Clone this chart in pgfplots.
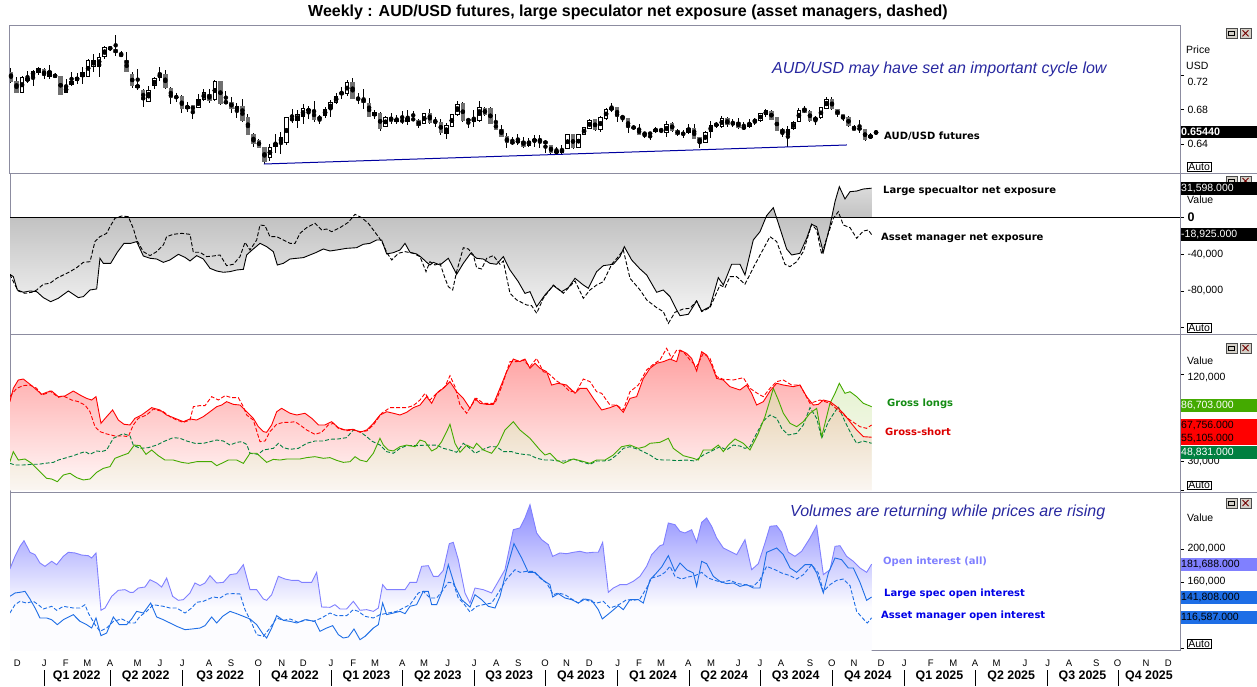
\documentclass[border=0pt]{standalone}
\usepackage{fontspec}
\setmainfont{Liberation Sans}
\newfontfamily\lblfont{DejaVu Sans}
\usepackage{pgfplots}
\usepackage{pgfplotstable}
\pgfplotsset{compat=1.18}

\definecolor{framegray}{RGB}{140,140,160}
\definecolor{candlegray}{RGB}{112,112,112}
\definecolor{supportblue}{RGB}{0,0,160}
\definecolor{notecol}{RGB}{40,40,160}
\definecolor{lgreen}{RGB}{68,170,0}
\definecolor{dgreen}{RGB}{0,128,64}
\definecolor{oipurple}{RGB}{128,128,255}
\definecolor{oiblue}{RGB}{30,110,230}
\definecolor{btngray}{RGB}{212,208,200}
\definecolor{redtop}{RGB}{255,160,160}
\definecolor{redbot}{RGB}{255,250,250}
\definecolor{greentop}{RGB}{205,232,165}
\definecolor{greenbot}{RGB}{248,244,235}
\definecolor{lsgreenlbl}{RGB}{20,140,20}
\definecolor{gslbl}{RGB}{220,0,0}
\definecolor{lsbluelbl}{RGB}{0,0,230}

\pgfdeclareverticalshading{netshade}{100bp}{%
  rgb(0bp)=(0.96,0.96,0.96); rgb(25bp)=(0.96,0.96,0.96);
  rgb(63bp)=(0.76,0.76,0.76); rgb(75bp)=(0.86,0.86,0.86);
  rgb(100bp)=(0.86,0.86,0.86)}
\pgfdeclareverticalshading{oishade}{100bp}{%
  rgb(0bp)=(0.99,0.99,1); rgb(40bp)=(0.99,0.99,1);
  rgb(75bp)=(0.55,0.55,1); rgb(100bp)=(0.55,0.55,1)}

% ---------------- weekly candles (w = week index from early Dec 2021) ----------------
\pgfplotstableread{
w o h l c
2 .6997 .7190 .6997 .7174
3 .7132 .7247 .7105 .7163
4 .7182 .7259 .7078 .7251
5 .7220 .7297 .7201 .7278
7 .7182 .7317 .7155 .7247
10 .6989 .7151 .6989 .7074
11 .7085 .7232 .7078 .7132
12 .7128 .7220 .7097 .7182
13 .7174 .7297 .7097 .7232
14 .7182 .7386 .7174 .7375
15 .7297 .7440 .7240 .7375
16 .7297 .7452 .7182 .7413
17 .7413 .7536 .7382 .7529
18 .7490 .7540 .7482 .7529
23 .7055 .7267 .7028 .7085
25 .6885 .7078 .6885 .7028
26 .7074 .7182 .7035 .7163
27 .7163 .7290 .7132 .7220
32 .6808 .6893 .6769 .6847
34 .6816 .6981 .6816 .6924
35 .6908 .7035 .6897 .7001
37 .6912 .7143 .6900 .7132
39 .6873 .7016 .6862 .6900
41 .6793 .6873 .6700 .6843
47 .6238 .6403 .6211 .6372
48 .6372 .6519 .6295 .6419
49 .6419 .6546 .6284 .6480
50 .6411 .6719 .6392 .6712
52 .6673 .6796 .6592 .6746
53 .6719 .6862 .6635 .6816
54 .6785 .6843 .6696 .6804
57 .6727 .6827 .6700 .6812
58 .6804 .6912 .6719 .6885
59 .6881 .6989 .6862 .6958
61 .6981 .7143 .6962 .7116
66 .6727 .6796 .6696 .6769
68 .6596 .6727 .6596 .6719
70 .6662 .6739 .6635 .6696
72 .6662 .6796 .6619 .6704
75 .6635 .6766 .6635 .6758
79 .6519 .6642 .6457 .6619
80 .6604 .6750 .6596 .6746
81 .6739 .6900 .6731 .6862
84 .6662 .6796 .6596 .6700
85 .6673 .6900 .6662 .6835
92 .6411 .6519 .6392 .6457
94 .6384 .6469 .6372 .6442
95 .6438 .6507 .6372 .6457
96 .6442 .6507 .6353 .6450
99 .6295 .6372 .6288 .6326
100 .6303 .6392 .6276 .6342
101 .6345 .6515 .6345 .6515
103 .6361 .6515 .6353 .6515
104 .6507 .6604 .6507 .6596
105 .6577 .6689 .6577 .6681
107 .6565 .6727 .6546 .6719
108 .6692 .6823 .6681 .6808
109 .6804 .6873 .6777 .6820
117 .6546 .6596 .6534 .6581
119 .6534 .6669 .6488 .6635
123 .6527 .6631 .6515 .6584
126 .6419 .6554 .6419 .6538
127 .6546 .6673 .6469 .6623
128 .6619 .6662 .6584 .6635
129 .6596 .6727 .6584 .6708
133 .6573 .6662 .6565 .6611
134 .6604 .6689 .6584 .6650
135 .6662 .6700 .6623 .6681
136 .6673 .6766 .6662 .6758
137 .6739 .6804 .6719 .6796
141 .6507 .6611 .6365 .6577
142 .6573 .6669 .6565 .6662
143 .6662 .6816 .6662 .6796
146 .6681 .6731 .6623 .6708
147 .6700 .6835 .6689 .6827
148 .6808 .6951 .6804 .6924
156 .6469 .6527 .6461 .6507
157 .6530 .6548 .6525 .6544
}\upc

\pgfplotstableread{
w o h l c
0 .7240 .7278 .7112 .7124
1 .7132 .7174 .6989 .6997
6 .7267 .7278 .7151 .7190
8 .7213 .7220 .7163 .7170
9 .7190 .7190 .6974 .6974
19 .7502 .7664 .7425 .7452
20 .7452 .7482 .7405 .7413
21 .7375 .7463 .7240 .7240
22 .7213 .7232 .7055 .7074
24 .7028 .7035 .6827 .6912
28 .7209 .7259 .7035 .7055
29 .7055 .7066 .6862 .6931
30 .6951 .6997 .6893 .6939
31 .6958 .6970 .6766 .6804
33 .6854 .6854 .6689 .6789
36 .6985 .7035 .6881 .6897
38 .7132 .7132 .6854 .6866
40 .6889 .6951 .6766 .6812
42 .6843 .6920 .6662 .6665
43 .6712 .6750 .6507 .6511
44 .6519 .6527 .6365 .6407
45 .6450 .6457 .6361 .6361
46 .6369 .6369 .6172 .6199
51 .6704 .6804 .6642 .6673
55 .6796 .6904 .6662 .6681
56 .6715 .6739 .6631 .6696
60 .7005 .7066 .6924 .6970
62 .7124 .7163 .6924 .6924
63 .6935 .6997 .6862 .6912
64 .6924 .7035 .6804 .6881
65 .6877 .6931 .6715 .6715
67 .6758 .6769 .6557 .6577
69 .6712 .6758 .6635 .6662
71 .6681 .6789 .6635 .6662
73 .6692 .6789 .6681 .6685
74 .6681 .6689 .6584 .6615
76 .6758 .6804 .6635 .6642
77 .6673 .6712 .6604 .6662
78 .6662 .6689 .6507 .6527
82 .6881 .6893 .6662 .6669
83 .6692 .6708 .6592 .6669
86 .6823 .6827 .6727 .6739
87 .6816 .6827 .6635 .6635
88 .6650 .6750 .6565 .6565
89 .6577 .6623 .6480 .6488
90 .6500 .6527 .6361 .6411
91 .6430 .6488 .6392 .6411
93 .6442 .6488 .6353 .6372
97 .6442 .6450 .6295 .6403
98 .6392 .6392 .6284 .6303
102 .6515 .6519 .6345 .6353
106 .6689 .6692 .6554 .6565
110 .6827 .6827 .6658 .6719
111 .6719 .6739 .6662 .6712
112 .6700 .6700 .6527 .6584
113 .6604 .6623 .6565 .6584
114 .6584 .6635 .6507 .6507
115 .6534 .6542 .6469 .6515
116 .6527 .6534 .6450 .6523
118 .6573 .6584 .6527 .6557
120 .6642 .6662 .6546 .6554
121 .6565 .6577 .6496 .6507
122 .6527 .6565 .6477 .6519
124 .6584 .6635 .6457 .6457
125 .6480 .6488 .6361 .6419
130 .6708 .6712 .6596 .6623
131 .6642 .6692 .6604 .6635
132 .6662 .6700 .6577 .6584
138 .6789 .6796 .6681 .6681
139 .6712 .6712 .6557 .6557
140 .6573 .6584 .6480 .6534
144 .6816 .6843 .6758 .6766
145 .6789 .6796 .6662 .6673
149 .6920 .6943 .6796 .6804
150 .6804 .6812 .6719 .6739
151 .6746 .6750 .6669 .6689
152 .6719 .6727 .6604 .6611
153 .6611 .6623 .6554 .6557
154 .6584 .6681 .6534 .6577
155 .6577 .6577 .6442 .6450
}\dnc

% ---------------- net exposure ----------------
\pgfplotstableread{
w v
-0.2 -61900
0.42 -64400
1.15 -78900
2.24 -81400
3.45 -80000
4.66 -80700
5.87 -87200
7.2 -91600
8.59 -87900
10.41 -80000
12.22 -87200
13.13 -86100
14.34 -78900
15.55 -77800
16.15 -44500
16.76 -50000
18.09 -50000
19.3 -38000
20.51 -28300
21.72 -28300
22.81 -26400
24.02 -42000
25.23 -44500
26.44 -45300
27.65 -48900
28.86 -46300
30.37 -40200
31.58 -43500
32.49 -47400
33.7 -41600
34.91 -45300
36.12 -55400
37.33 -58300
38.54 -59700
39.75 -59000
40.96 -57200
42.17 -56500
42.77 -40900
43.68 -35900
45.19 -28300
46.4 -31900
47.61 -37300
48.34 -51800
49.43 -50000
50.64 -45300
51.85 -44500
53.06 -43800
54.26 -40900
55.47 -38000
56.68 -34400
57.89 -36600
59.1 -35500
60.92 -33700
62.73 -33000
63.94 -29300
65.15 -28300
66.36 -24600
67.27 -24600
68.18 -39800
69.39 -38400
70.6 -35500
71.51 -28300
72.41 -38000
73.62 -39800
74.53 -43800
75.44 -48900
76.04 -51800
76.65 -48900
77.86 -51800
79.37 -44500
80.88 -61900
82.09 -50000
83.42 -39100
84.5 -44500
85.71 -45300
86.93 -50000
88.14 -51000
89.35 -42700
90.56 -57200
92.07 -69900
93.28 -82600
94.19 -80700
95.4 -97000
96.91 -84300
98.43 -74200
99.94 -80700
101.15 -76400
102.36 -66200
103.87 -73500
104.78 -77100
106.29 -59000
107.5 -52500
109.32 -51000
110.53 -42700
111.31 -31900
112.64 -46300
114.16 -56100
115.37 -62600
117.18 -81400
118.39 -78900
119.6 -86100
120.81 -100600
121.42 -106800
122.93 -105300
124.44 -90800
125.35 -101700
126.86 -97000
128.37 -65500
129.28 -73500
130.79 -51000
132.3 -51000
133.21 -62600
134.72 -24600
135.94 -15600
137.14 1800
138.35 10400
139.56 -12000
140.77 -34400
141.68 -40900
143.19 -39100
144.4 -22800
145.31 -7600
146.22 -10200
147.43 -38000
148.64 -9100
149.55 17000
150.33 33200
151.36 19900
152.27 27800
153.48 28500
154.69 30700
156.2 31598
}\lsnet

\pgfplotstableread{
w v
-0.2 -61900
0.73 -73500
1.33 -80000
2.54 -82500
3.75 -81400
4.66 -78900
5.87 -72700
7.08 -71600
8.29 -66200
9.5 -62600
10.71 -59000
11.92 -54700
13.13 -48900
14.34 -48200
15.24 -26400
16.15 -21000
17.36 -17400
17.97 -10200
18.87 -1100
20.08 1400
21.29 700
22.2 -12000
22.81 -24600
24.02 -37300
25.23 -41600
26.44 -37300
27.65 -30100
28.25 -21000
29.46 -18500
30.97 -17400
32.49 -18500
33.09 -38000
34.3 -38000
35.51 -42700
36.72 -42000
37.93 -40900
39.14 -52500
40.35 -51000
41.56 -42700
42.47 -27200
43.38 -35500
44.59 -24600
45.19 -8400
46.1 -9100
47.0 -21000
48.22 -21000
49.43 -24600
50.64 -28300
51.54 -28300
52.45 -17400
53.66 -11200
55.17 -6500
56.38 -13800
57.29 -12700
58.2 -15600
59.71 -11200
61.22 -5500
62.43 3200
63.64 -400
64.85 -6500
65.76 -13800
66.67 -21000
67.57 -29300
68.18 -38000
69.09 -46300
70.3 -39100
71.51 -37300
73.02 -39100
74.23 -42700
75.32 -59000
76.04 -48200
76.95 -51800
77.86 -50000
78.77 -66200
79.37 -75300
80.16 -78900
80.88 -59000
82.09 -33000
83.0 -34400
83.91 -40900
84.5 -54700
85.42 -56100
86.33 -44500
87.54 -41600
88.75 -51000
89.35 -47400
90.56 -82500
91.77 -89700
93.59 -95200
94.49 -95900
95.4 -104200
96.61 -87900
98.43 -73500
100.24 -82500
102.36 -69100
103.87 -87900
105.08 -78900
106.29 -73500
107.5 -69900
109.02 -51000
110.23 -42700
111.13 -35500
112.34 -66200
114.16 -78900
115.37 -89700
117.18 -98100
118.39 -102400
119.3 -115100
120.51 -103100
122.02 -99500
123.23 -98800
124.44 -90800
125.35 -102400
126.86 -98100
128.68 -73500
129.58 -76400
130.49 -64400
131.7 -64400
133.21 -72700
134.72 -54700
136.54 -34400
137.75 -21000
138.96 -26400
140.47 -51000
141.38 -53600
142.59 -48200
143.8 -37300
145.31 -7600
146.22 -13800
147.13 -40200
148.04 -22800
149.25 -1100
150.15 6100
151.06 -8400
152.27 -11200
153.48 -22800
154.69 -14900
155.6 -13800
156.2 -18925
}\amnet

% ---------------- gross positions ----------------
\pgfplotstableread{
w v
-0.2 91900
0.42 105700
1.33 114300
2.24 115300
2.84 112600
3.75 108500
4.66 104000
5.57 99500
6.47 101600
7.38 102900
8.59 97100
9.8 97800
11.31 102900
12.52 98800
13.73 95300
14.64 93600
15.43 97100
16.33 69500
17.36 76400
18.45 83300
19.48 72900
20.51 68500
21.6 67800
22.5 74700
23.71 78100
25.53 85700
27.04 83300
28.25 78100
29.76 74700
31.28 71200
32.49 74000
33.7 72900
34.91 76400
36.12 81500
37.33 86700
38.23 88400
39.14 91900
40.35 89100
41.56 88400
42.77 81500
43.98 74700
44.89 66000
45.8 60900
46.4 60200
47.31 67800
48.22 81500
49.12 85000
50.64 79900
51.85 78100
53.36 79900
54.57 74700
55.78 67800
56.99 67800
58.2 71200
59.41 65000
60.62 62600
62.13 63300
63.34 60200
64.55 62600
65.76 69500
66.97 78100
68.18 81500
69.39 79900
70.6 78100
71.81 80900
73.02 85700
74.23 88400
75.44 97100
76.35 90200
77.25 100500
78.46 105700
79.67 112600
80.88 102200
82.09 95300
83.3 85000
84.21 95300
85.11 90200
86.33 89100
87.53 89100
88.74 105700
89.95 122900
91.16 136000
92.37 133300
93.28 136000
94.19 126400
95.1 131600
96.0 126400
97.21 122900
98.12 109100
99.33 110900
100.84 109100
102.36 100500
103.26 105700
104.47 105700
105.68 95300
107.2 83300
108.71 85700
109.92 88400
111.13 80900
112.34 95300
113.55 97100
114.76 116000
115.97 126400
117.18 131600
118.39 133300
119.6 136000
120.81 133300
121.41 145300
122.62 141900
123.53 136700
124.44 123600
125.35 143600
126.25 140200
127.16 129800
128.07 116000
129.28 114300
130.49 107400
132.3 104000
133.51 109100
134.42 100500
135.33 88400
136.54 91900
137.75 102900
138.96 110900
140.17 109100
141.98 107400
143.19 109100
144.4 97100
145.61 88400
146.52 89100
147.43 93600
148.64 91900
149.85 86700
151.06 79900
152.27 71200
153.48 62600
154.69 55700
156.2 55105
}\lsshort

\pgfplotstableread{
w v
-0.2 97100
1.03 105700
2.24 108500
3.45 109100
4.66 105700
5.57 98800
6.47 100500
7.08 102900
8.59 96400
9.5 97800
11.01 93600
12.22 91900
13.43 88400
14.34 81500
15.24 66000
16.15 60900
17.36 58500
18.87 56400
20.39 56400
21.29 55700
22.2 67800
23.11 74700
24.62 78100
25.83 84300
27.65 81500
28.86 76400
30.07 72900
31.28 70500
32.49 72900
33.09 86700
34.3 87800
35.21 87800
36.42 97100
37.63 93600
38.84 98100
40.05 96000
41.26 96000
42.17 86700
42.77 78100
43.98 72900
45.19 50500
46.1 51200
47.0 60900
48.22 68500
49.43 70500
50.64 70500
51.54 71200
52.45 67800
53.66 62600
55.17 58100
56.38 60200
57.59 67800
58.5 69500
59.41 64300
60.92 61900
62.13 62600
63.34 60900
64.55 61600
65.76 67800
67.27 79900
68.78 85700
70.6 85700
71.81 85700
73.02 87800
74.23 93600
75.14 100500
76.04 93600
77.55 102200
78.76 107400
79.67 118800
80.58 107400
81.49 88400
82.7 79900
83.6 88400
84.51 95300
85.72 90200
86.93 90200
87.84 90200
89.05 107400
90.56 133300
91.77 133300
92.98 135000
94.19 128100
95.4 136700
96.61 122900
97.52 121200
99.03 113300
100.24 109100
101.45 102200
102.66 102900
103.87 115300
105.08 112600
106.29 102200
107.2 100500
108.71 88400
109.92 88400
111.13 83300
112.34 102200
113.85 109100
115.36 124700
116.57 130500
117.78 135000
118.99 147100
119.9 136700
120.81 145300
122.02 143600
123.23 135000
124.44 128100
125.65 141900
126.86 136700
128.07 117800
129.28 115000
131.09 114300
132.91 116700
134.12 105700
135.02 102200
135.93 98800
136.54 97100
137.75 105700
138.96 112600
140.17 114300
141.68 109100
143.19 109100
145.01 90200
146.82 93600
148.64 90200
150.45 81500
152.27 72900
154.08 66000
155.29 64300
156.2 67756
}\amshort

\pgfplotstableread{
w v
-0.2 29800
0.42 40200
1.33 31500
2.54 32600
3.75 28100
4.96 21200
6.47 12600
7.38 11900
8.41 9100
9.5 16000
10.71 17800
11.92 13300
13.13 10900
14.34 11900
15.55 18800
16.76 22900
17.97 24700
18.87 33300
20.08 36000
21.29 38500
22.38 47000
23.41 46400
24.5 37400
25.53 41900
26.74 36000
27.95 31500
29.46 31500
30.97 29100
32.18 28100
33.7 29800
35.21 29800
36.42 29800
37.33 25700
38.23 28100
39.44 31500
40.96 31500
42.17 28100
43.38 38500
44.59 38500
46.4 29100
47.61 32200
48.82 31500
50.03 32600
51.24 32600
52.45 32600
53.66 34000
55.17 35000
56.68 33300
57.89 34000
59.1 31200
60.31 29100
61.52 29800
62.43 35000
63.34 31500
64.55 29800
65.76 38500
66.97 54000
67.57 47000
68.48 41900
69.39 40900
70.6 45300
71.81 47000
73.32 45300
74.23 52200
75.14 50500
76.35 40900
77.25 43600
78.16 50500
79.07 60900
79.67 68500
80.58 48800
81.49 39500
82.7 47000
83.91 43600
84.51 48800
85.72 41900
87.23 38500
88.44 47700
89.65 62600
91.16 71200
92.37 62600
94.19 54000
96.0 41900
96.91 36700
97.82 38500
99.03 31500
100.24 28100
102.05 32600
103.57 30500
105.08 28100
106.29 31500
107.8 31500
109.31 36700
110.82 45300
112.34 47000
113.85 43600
115.06 45300
115.97 48800
117.78 49800
119.3 54000
120.2 43600
122.02 36000
123.83 33300
124.74 31500
125.65 41900
127.16 41900
128.37 47000
129.28 40200
130.19 47000
131.4 53300
132.91 48800
134.12 41900
135.63 59100
136.84 76400
137.75 93600
138.35 105700
139.26 93600
140.17 79900
141.38 69500
142.59 66000
143.8 71200
145.01 79900
146.22 85000
147.13 55700
148.64 90200
149.55 100500
150.33 110900
151.36 100500
152.27 102200
153.48 97100
154.69 90200
156.2 86703
}\lslong

\pgfplotstableread{
w v
-0.2 28100
0.73 26400
2.24 26400
3.75 27100
4.96 27100
6.17 28100
7.68 29100
8.59 31500
10.1 34000
11.31 36000
12.52 38500
13.43 40200
14.34 37400
15.55 40900
16.45 40200
17.36 41900
18.57 54000
19.48 56400
20.39 58800
21.6 56400
22.2 47000
23.41 43600
24.92 44300
26.44 47000
27.95 51200
29.46 54700
30.67 54000
31.88 51200
33.39 48800
34.91 48800
36.12 50500
37.33 52200
38.54 51200
39.75 47000
40.96 49800
41.86 50500
42.77 47700
43.38 38500
44.89 37400
45.8 41900
47.61 43600
48.52 48800
49.43 44300
50.64 42600
52.15 43600
53.66 48800
55.17 51200
56.68 51200
57.89 53000
59.41 53300
60.92 54700
62.13 62600
63.34 60900
64.55 55700
65.46 51200
66.97 47000
68.18 40200
69.39 38500
70.6 43600
71.81 46400
73.62 46400
75.44 47000
77.25 47000
78.46 43600
79.67 41900
80.88 39500
82.09 48800
83.3 43600
84.21 38500
85.42 41900
86.93 45300
88.14 45300
89.35 40200
90.86 40200
91.77 38500
92.98 37400
94.19 36700
95.4 33300
96.91 31500
98.12 31500
99.33 30500
100.54 30500
102.05 32600
103.57 29800
105.08 27100
106.29 30500
107.5 30500
108.71 31500
109.92 36700
111.13 43600
112.34 45300
114.15 41900
115.97 36700
117.18 32200
118.39 31500
119.6 31500
120.81 30900
122.62 31500
124.13 30500
125.65 36700
127.16 40900
128.67 45300
129.88 41900
131.09 47000
132.3 46000
133.21 43600
134.12 45300
135.33 59100
136.54 71900
137.75 78100
138.96 74700
139.87 64300
141.08 57400
142.59 59100
143.8 67800
145.01 85700
146.22 74700
147.13 54000
148.34 71200
150.15 86700
151.36 71200
152.57 57400
153.48 48800
154.69 51200
156.2 48831
}\amlong

% ---------------- open interest ----------------
\pgfplotstableread{
w v
-0.2 175800
0.73 191100
1.63 203200
2.36 210100
3.45 196000
4.36 193100
5.26 183000
6.17 179000
7.38 185100
8.29 181000
9.5 191100
10.41 196000
11.62 195200
12.82 192700
14.03 191900
14.64 189100
15.43 195200
16.33 125700
17.06 128500
18.27 142600
19.48 149900
20.69 150700
21.6 147500
22.2 147500
23.11 152700
24.32 153900
25.23 162800
26.44 158800
27.34 153900
28.25 164800
29.34 142600
30.37 137800
31.28 138600
32.49 146700
33.39 158800
34.3 155600
35.21 158800
36.12 167700
37.33 158800
38.54 159600
39.75 168900
40.96 170100
42.17 181000
43.38 150700
44.59 150700
45.8 139400
46.4 137800
47.31 144600
48.52 166900
49.73 163600
50.94 162000
52.15 162000
52.75 159600
53.96 159600
54.57 159600
55.47 171700
56.38 129700
57.89 129300
58.8 132500
59.71 127300
60.92 127300
62.13 136600
63.34 125700
64.55 126500
65.76 124400
66.67 128500
67.45 156800
68.18 150700
69.99 150700
71.51 150700
72.41 159600
73.62 159600
74.53 179000
75.74 179800
76.65 166900
77.55 166900
78.46 174100
79.55 206500
80.27 208100
81.18 187100
82.39 146700
83.3 134500
84.21 152700
85.72 150700
87.23 146700
88.44 160800
89.65 174900
91.16 223400
92.37 225500
93.28 237600
94.19 253700
95.4 219400
96.31 211300
97.52 205300
98.3 191100
99.63 195200
100.84 194300
102.05 196000
103.26 197200
104.47 195200
105.68 196000
106.59 196000
107.38 208100
108.41 147500
109.31 152700
110.52 156800
111.73 156800
112.94 160800
114.15 166900
115.36 179000
116.27 193100
117.78 204000
118.39 205300
119.3 231500
120.5 229500
121.41 221400
122.32 219400
123.53 223400
124.44 208100
125.35 232300
126.25 237600
127.16 227500
128.07 213300
129.28 201200
130.49 197200
131.7 193100
133.21 211300
134.42 174900
135.63 182200
136.84 207300
137.75 227500
138.96 228300
139.87 220200
141.08 196000
142.28 191100
143.49 197200
145.01 213300
146.22 228300
147.43 168900
148.64 174900
149.55 203200
150.45 204000
151.66 191100
152.87 185100
154.08 177000
155.29 171700
156.2 181688
}\oiall

\pgfplotstableread{
w v
-0.2 142600
0.73 146700
1.63 147500
2.54 148700
3.45 139400
4.36 128500
5.26 116400
6.47 116400
7.38 114300
8.41 108300
9.5 114300
11.31 120400
12.52 112300
13.73 108300
14.64 104200
15.43 116400
16.33 94900
17.36 98200
18.57 117600
19.66 108300
20.99 108300
21.9 115200
22.81 124400
24.02 122400
25.35 134500
26.44 117600
27.65 114300
28.86 110300
30.07 106300
31.58 102200
32.79 103000
34.3 104200
35.21 107100
36.42 117600
37.33 110300
38.42 118400
39.75 124400
40.96 121600
42.17 118400
43.38 115200
44.59 108300
45.8 96200
46.4 92100
47.31 104200
48.22 119200
49.43 113500
50.64 112300
51.85 110300
53.36 114300
55.17 112300
56.08 100200
57.29 104200
58.38 107100
59.41 96200
60.31 92100
61.22 93300
62.25 103000
63.34 90100
64.25 94100
65.76 104200
66.67 108300
67.45 134500
68.18 120400
69.39 122400
70.6 124400
71.51 121600
72.41 130500
73.62 132500
74.83 148700
75.74 148700
76.35 132500
77.25 132500
78.16 147500
79.37 181000
80.58 154700
81.79 138600
83.3 129700
84.21 144600
85.42 138600
86.63 130500
87.84 128500
88.74 142600
89.95 174900
91.28 206500
92.68 189100
93.89 171700
95.1 171700
96.61 162000
97.82 156800
98.3 141800
99.33 145900
100.54 140600
101.75 138600
102.96 134500
104.17 139400
105.38 137800
106.59 126500
107.32 115200
109.01 124400
110.22 131300
111.13 126500
112.34 138600
113.85 138600
114.76 134500
115.97 162800
116.87 168900
118.09 178200
119.3 191900
120.5 172900
121.41 183000
122.62 174900
123.83 170900
124.44 154700
125.35 185100
126.25 182200
127.46 166900
128.67 160800
129.88 158000
131.09 158800
132.3 154700
133.51 156800
134.72 152700
135.93 152700
137.14 196000
138.96 201200
140.17 193100
141.38 177000
142.59 171700
144.1 181000
145.31 181000
146.22 170900
147.43 146700
148.34 170900
149.55 189100
150.75 187100
151.96 177000
152.87 177000
154.08 159600
155.29 137800
156.2 141808
}\oils

\pgfplotstableread{
w v
-0.2 122400
0.73 132500
1.63 136600
2.84 134500
4.05 136600
4.96 132500
5.87 127300
7.38 130500
8.29 125700
9.5 130500
11.31 128500
12.52 128500
13.43 132500
14.03 122400
15.24 108300
16.15 100200
17.36 104200
18.57 112300
20.08 115200
21.6 110300
22.5 110300
23.41 118400
24.62 124400
25.83 132500
27.65 130500
28.86 128500
30.07 128500
31.58 122400
32.79 128500
33.7 135400
34.91 136600
36.72 141800
37.93 140600
39.14 145500
40.35 145900
41.56 145500
42.47 126500
43.68 110300
44.59 96200
45.8 94100
47.0 104200
48.22 116400
49.43 113500
50.64 115200
52.15 111100
53.66 114300
54.87 112300
56.38 116400
57.89 122400
59.1 119200
60.92 119200
62.13 126500
63.04 124400
64.25 118400
65.76 116400
66.97 120400
68.48 122400
69.99 124400
71.2 128500
72.41 132500
73.93 146700
74.83 148700
76.04 140600
77.25 140600
78.46 150700
79.37 159600
80.27 158800
81.18 140600
82.09 134500
83.3 123600
84.51 130500
85.72 132500
87.23 134500
88.44 146700
89.95 163600
91.47 174900
92.37 171700
93.58 172900
94.79 172900
96.0 164800
97.21 158800
98.42 144600
99.33 146700
100.54 144600
101.75 139400
102.96 134500
103.87 139400
105.08 136600
106.29 134500
107.5 136600
108.71 128500
109.92 131300
110.82 134500
111.73 138600
112.94 137800
114.15 139400
115.36 152700
116.27 164800
117.78 167700
118.69 171700
119.6 179000
120.5 166900
121.71 163600
122.92 166100
124.13 167700
125.35 171700
126.55 164800
127.76 162000
128.97 159600
130.49 162000
132.0 158000
133.21 156800
134.72 154700
135.93 162800
137.14 179000
138.65 174900
139.87 170900
141.38 167700
142.59 163600
143.8 168900
145.31 181000
146.52 170900
147.43 148700
148.64 156800
149.85 162000
151.06 163600
152.27 155600
153.48 124400
154.69 115200
155.41 110300
156.2 116587
}\oiam

\pgfplotsset{
  panel/.style={
    scale only axis, width=1170pt, anchor=south west,
    xmin=-0.18, xmax=212.16,
    axis line style={draw=framegray, line width=1pt},
    xtick=\empty,
    ytick pos=right, yticklabel pos=right,
    tick align=outside,
    major tick length=4pt,
    y tick style={black, line width=0.8pt},
    yticklabel style={font=\fontsize{10.5}{12}\selectfont, anchor=west},
    scaled y ticks=false,
    /pgf/number format/assume math mode=true,
  },
  barstyle/.style 2 args={only marks, mark=none,
    error bars/.cd, y dir=both, y explicit, error mark=none,
    error bar style={draw=#1, line width=#2}},
}

\newcommand\btns[1]{%
  \draw[fill=btngray, draw=gray!60!black, line width=0.6pt] (1226,#1) rectangle ++(11,-10);
  \draw[line width=0.6pt] (1228.5,#1-3) rectangle ++(6,-4);
  \draw[fill=btngray, draw=gray!60!black, line width=0.6pt] (1240,#1) rectangle ++(11,-10);
  \draw[line width=0.9pt, red!45!black] (1242.5,#1-2) -- ++(6,-6) (1242.5,#1-8) -- ++(6,6);
}
\newcommand\valbox[4]{% y-bottom, fill colour, text colour, text
  \fill[#2] (1180.7,#1) rectangle (1257,#1+13);
  \node[anchor=west, inner sep=0pt, text=#3, font=\fontsize{10.5}{12}\selectfont] at (1181,#1+6.5) {#4};
}
\newcommand\autobox[1]{%
  \node[draw=black, fill=white, line width=0.7pt, inner xsep=1.2pt, inner ysep=0.6pt,
        anchor=west, font=\fontsize{10.5}{12}\selectfont] at (1186.7,#1) {Auto};
}

\begin{document}
\begin{tikzpicture}[x=1pt,y=1pt]
\path[use as bounding box] (0,0) rectangle (1257,687);

% ================= Panel 1 : candles =================
\begin{axis}[panel, at={(10pt,513pt)}, height=148pt,
  ymin=0.60566, ymax=0.77676,
  ytick={0.64,0.68,0.72},
  yticklabels={0.64,0.68,{\smash{\raisebox{-10pt}{0.72}}}}]
  \addplot[barstyle={black}{1pt}] table[x=w, y expr={(\thisrow{h}+\thisrow{l})/2}, y error expr={(\thisrow{h}-\thisrow{l})/2}] \dnc;
  \addplot[barstyle={black}{1pt}] table[x=w, y expr={(\thisrow{h}+\thisrow{l})/2}, y error expr={(\thisrow{h}-\thisrow{l})/2}] \upc;
  \addplot[barstyle={candlegray}{4.5pt}] table[x=w, y expr={(\thisrow{o}+\thisrow{c})/2}, y error expr={max(abs(\thisrow{o}-\thisrow{c})/2,0.0006)}] \dnc;
  \addplot[barstyle={black}{4.5pt}] table[x=w, y expr={(\thisrow{o}+\thisrow{c})/2}, y error expr={max(abs(\thisrow{o}-\thisrow{c})/2,0.0006)}] \upc;
  \addplot[barstyle={white}{2.5pt}] table[x=w, y expr={(\thisrow{o}+\thisrow{c})/2}, y error expr={max(abs(\thisrow{o}-\thisrow{c})/2-0.00116,0)}] \upc;
  \addplot[supportblue, line width=1pt] coordinates {(45.9,0.6172) (151.7,0.6392)};
\end{axis}

% ================= Panel 2 : net exposure =================
\begin{axis}[panel, at={(10pt,352pt)}, height=161pt,
  ymin=-127765, ymax=47000,
  ytick={-120000,-80000,-40000,0},
  yticklabels={{},{-80,000},{-40,000},{\fontsize{12.5}{13}\selectfont\bfseries 0}}]
  \addplot[shading=netshade, draw=none] table[x=w,y=v] \lsnet \closedcycle;
  \addplot[black, line width=1pt] coordinates {(-0.18,0) (212.16,0)};
  \addplot[black, line width=0.9pt, dash pattern=on 4pt off 2pt] table[x=w,y=v] \amnet;
  \addplot[black, line width=0.9pt] table[x=w,y=v] \lsnet;
\end{axis}

% ================= Panel 3 : gross positions =================
\begin{axis}[panel, at={(10pt,194pt)}, height=158pt,
  ymin=-2588, ymax=160863,
  ytick={0,30000,120000},
  yticklabels={{},{30,000},{\smash{\raisebox{-6pt}{120,000}}}}]
  \addplot[top color=redtop, bottom color=redbot, draw=none] table[x=w,y=v] \lsshort \closedcycle;
  \addplot[top color=greentop, bottom color=greenbot, draw=none, fill opacity=0.5] table[x=w,y=v] \lslong \closedcycle;
  \addplot[dgreen, line width=0.9pt, dash pattern=on 4pt off 2pt] table[x=w,y=v] \amlong;
  \addplot[red, line width=0.9pt, dash pattern=on 4pt off 2pt] table[x=w,y=v] \amshort;
  \addplot[lgreen, line width=0.9pt] table[x=w,y=v] \lslong;
  \addplot[red, line width=0.9pt] table[x=w,y=v] \lsshort;
\end{axis}

% ================= Panel 4 : open interest =================
\begin{axis}[panel, at={(10pt,36pt)}, height=158pt,
  ymin=76366, ymax=267878,
  ytick={80000,160000,200000},
  yticklabels={{},{160,000},{200,000}},
  xtick={1.14,6.04,9.93,13.85,17.97,22.99,27.04,31.09,35.93,39.93,44.88,49.13,53.05,58.08,62.12,66.06,71.02,74.95,79.26,84.08,88.08,92.07,96.91,100.85,104.95,110.11,113.97,117.97,122.92,127.04,132.0,135.93,139.75,145.01,148.95,152.99,157.9,162.12,166.91,171.02,174.95,178.89,184.03,188.15,192.01,196.97,200.85,205.99,210.04},
  xticklabels={D,J,F,M,A,M,J,J,A,S,O,N,D,J,F,M,A,M,J,J,A,S,O,N,D,J,F,M,A,M,J,J,A,S,O,N,D,J,F,M,A,M,J,J,A,S,O,N,D},
  xtick pos=bottom,
  x tick style={draw=none},
  xticklabel style={font=\fontsize{9.5}{11}\selectfont, anchor=center, yshift=-8.5pt}]
  \addplot[shading=oishade, draw=none] table[x=w,y=v] \oiall \closedcycle;
  \addplot[oipurple, line width=0.9pt] table[x=w,y=v] \oiall;
  \addplot[oiblue, line width=0.9pt, dash pattern=on 4pt off 2pt] table[x=w,y=v] \oiam;
  \addplot[oiblue, line width=0.9pt] table[x=w,y=v] \oils;
\end{axis}

% ================= frame pieces and right-hand scale =================
\draw[framegray, line width=1pt] (1180,513) -- (1257,513);
\draw[framegray, line width=1pt] (1180,352) -- (1257,352);
\draw[framegray, line width=1pt] (1180,194) -- (1257,194);

\btns{658.7}
\btns{511}
\btns{344}
\btns{189}

\node[anchor=west, inner sep=0pt, font=\fontsize{10.5}{12}\selectfont] at (1186,637) {Price};
\node[anchor=west, inner sep=0pt, font=\fontsize{10.5}{12}\selectfont] at (1186,621) {USD};
\node[anchor=west, inner sep=0pt, font=\fontsize{10.5}{12}\selectfont] at (1187,487) {Value};
\node[anchor=west, inner sep=0pt, font=\fontsize{10.5}{12}\selectfont] at (1187,326) {Value};
\node[anchor=west, inner sep=0pt, font=\fontsize{10.5}{12}\selectfont] at (1187,169) {Value};

\fill[black] (1180.7,548.7) rectangle (1257,561.3);
\node[anchor=west, inner sep=0pt, text=white, font=\fontsize{10.8}{12}\selectfont\bfseries] at (1181,555) {0.65440};
\valbox{492.2}{black}{white}{31,598.000}
\valbox{446}{black}{white}{-18,925.000}
\valbox{274.8}{lgreen}{white}{86,703.000}
\valbox{255.3}{red}{black}{67,756.000}
\valbox{242}{red}{black}{55,105.000}
\valbox{227.5}{dgreen}{white}{48,831.000}
\valbox{116.3}{oipurple}{black}{181,688.000}
\valbox{83.3}{oiblue}{black}{141,808.000}
\valbox{63.3}{oiblue}{black}{116,587.000}

\autobox{520.3}
\autobox{359}
\autobox{201.7}
\autobox{43.2}

% ================= titles and series labels =================
\node[font=\fontsize{16}{19}\selectfont\bfseries] at (628,675) {Weekly : AUD/USD futures, large speculator net exposure (asset managers, dashed)};
\node[anchor=west, inner sep=0pt, text=notecol, font=\fontsize{16}{19}\selectfont\itshape] at (772,618) {AUD/USD may have set an important cycle low};
\node[anchor=west, inner sep=0pt, text=notecol, font=\fontsize{16}{19}\selectfont\itshape] at (790,175) {Volumes are returning while prices are rising};

\node[anchor=west, inner sep=0pt, font=\lblfont\fontsize{10}{12}\selectfont\bfseries] at (884,551) {AUD/USD futures};
\node[anchor=west, inner sep=0pt, font=\lblfont\fontsize{10}{12}\selectfont\bfseries] at (883,496) {Large specualtor net exposure};
\node[anchor=west, inner sep=0pt, font=\lblfont\fontsize{10}{12}\selectfont\bfseries] at (881,449) {Asset manager net exposure};
\node[anchor=west, inner sep=0pt, text=lsgreenlbl, font=\lblfont\fontsize{10}{12}\selectfont\bfseries] at (887,283) {Gross longs};
\node[anchor=west, inner sep=0pt, text=gslbl, font=\lblfont\fontsize{10}{12}\selectfont\bfseries] at (885,255) {Gross-short};
\node[anchor=west, inner sep=0pt, text=oipurple, font=\lblfont\fontsize{10}{12}\selectfont\bfseries] at (883,125) {Open interest (all)};
\node[anchor=west, inner sep=0pt, text=lsbluelbl, font=\lblfont\fontsize{10}{12}\selectfont\bfseries] at (884,93) {Large spec open interest};
\node[anchor=west, inner sep=0pt, text=lsbluelbl, font=\lblfont\fontsize{10}{12}\selectfont\bfseries] at (881,71) {Asset manager open interest};

% ================= quarter row =================
\foreach \x in {44.3,110,182.3,259,331.7,402.3,474.3,545,617.7,689.3,760,832.3,904.3,975.7,1047.7,1118.3}
  \draw[black, line width=1pt] (\x,1) -- (\x,17);
\foreach \x/\t in {76.7/Q1 2022,145.7/Q2 2022,220.2/Q3 2022,294.9/Q4 2022,366.5/Q1 2023,437.8/Q2 2023,509.2/Q3 2023,580.9/Q4 2023,653/Q1 2024,724.2/Q2 2024,795.7/Q3 2024,867.8/Q4 2024,939.5/Q1 2025,1011.2/Q2 2025,1082.5/Q3 2025,1149/Q4 2025}
  \node[font=\fontsize{12.4}{14}\selectfont\bfseries] at (\x,10.5) {\t};
\end{tikzpicture}
\end{document}
